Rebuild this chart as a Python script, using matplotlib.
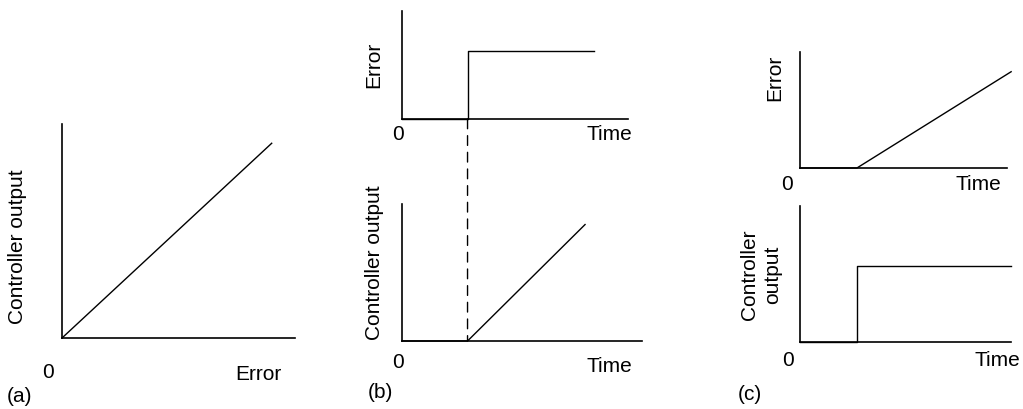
import matplotlib
matplotlib.use("Agg")
import matplotlib.pyplot as plt
from matplotlib.patches import ConnectionPatch

# (a) proportional: output against error
error_a = [0, 9.0]
output_a = [0, 9.1]

# (b) step in error -> ramp in output
time_b_err = [0, 2.9, 2.9, 8.5]
error_b = [0, 0, 6.3, 6.3]
time_b_out = [0, 2.9, 8.1]
output_b = [0, 0, 8.5]

# (c) ramp in error -> step in output
time_c_err = [0, 2.75, 10.2]
error_c = [0, 0, 8.3]
time_c_out = [0, 2.75, 2.75, 10.2]
output_c = [0, 0, 5.6, 5.6]

plt.rcParams["font.family"] = ["Liberation Sans", "DejaVu Sans"]
FS = 15
W, H = 1023, 409

fig = plt.figure(figsize=(W / 100, H / 100), dpi=100)


def px_axes(l, t, r, b, xmax, ymax=10):
    ax = fig.add_axes([l / W, 1 - b / H, (r - l) / W, (b - t) / H])
    ax.set_xlim(0, xmax)
    ax.set_ylim(0, ymax)
    for s in ["top", "right"]:
        ax.spines[s].set_visible(False)
    for s in ["left", "bottom"]:
        ax.spines[s].set_linewidth(1.2)
        ax.spines[s].set_color("black")
    ax.set_xticks([])
    ax.set_yticks([])
    ax.patch.set_alpha(0)
    return ax


def txt(x, y, s, **kw):
    fig.text(x / W, 1 - y / H, s, fontsize=FS, ha="center", va="center", **kw)


# panel (a)
ax_a = px_axes(62, 124, 295, 338, 10)
ax_a.plot(error_a, output_a, color="black", lw=1.0, clip_on=False)
txt(18, 247, "Controller output", rotation=90)
txt(48, 373, "0")
txt(258, 375, "Error")
txt(20, 397, "(a)")

# panel (b)
ax_b1 = px_axes(402, 11, 628, 119, 10)
ax_b1.plot(time_b_err, error_b, color="black", lw=1.0, clip_on=False)
ax_b2 = px_axes(402, 204, 642, 341, 10.62)
ax_b2.plot(time_b_out, output_b, color="black", lw=1.0, clip_on=False)
con = ConnectionPatch(xyA=(time_b_err[1], 0), coordsA=ax_b1.transData,
                      xyB=(time_b_out[1], 0), coordsB=ax_b2.transData,
                      color="black", lw=1.0, linestyle=(0, (7, 5)))
fig.add_artist(con)
txt(374, 65, "Error", rotation=90)
txt(398, 135, "0")
txt(609, 135, "Time")
txt(375, 263, "Controller output", rotation=90)
txt(398, 362, "0")
txt(609, 366, "Time")
txt(380, 393, "(b)")

# panel (c)
ax_c1 = px_axes(800, 52, 1007, 168, 10)
ax_c1.plot(time_c_err, error_c, color="black", lw=1.0, clip_on=False)
ax_c2 = px_axes(800, 206, 1011, 342, 10.2)
ax_c2.plot(time_c_out, output_c, color="black", lw=1.0, clip_on=False)
txt(775, 78, "Error", rotation=90)
txt(787, 185, "0")
txt(978, 185, "Time")
txt(761, 275, "Controller\noutput", rotation=90, linespacing=1.3)
txt(788, 360, "0")
txt(997, 360, "Time")
txt(750, 395, "(c)")

fig.savefig("out.png", dpi=100)
